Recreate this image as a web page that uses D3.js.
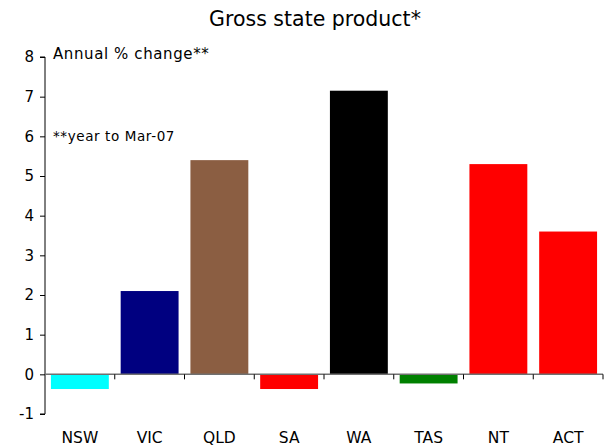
<!DOCTYPE html>
<html><head><meta charset="utf-8">
<script src="https://cdn.jsdelivr.net/npm/d3@7"></script>
<style>body{margin:0;background:#fff}svg{display:block}text{font-family:"DejaVu Sans",Verdana,sans-serif;fill:#000}</style>
</head><body>
<script>
const categories = ["NSW","VIC","QLD","SA","WA","TAS","NT","ACT"];
const values = [-0.37, 2.1, 5.4, -0.37, 7.15, -0.23, 5.3, 3.6];
const colors = ["#00FFFF","#000080","#8B5E42","#FF0000","#000000","#008000","#FF0000","#FF0000"];
const yTicks = [-1,0,1,2,3,4,5,6,7,8];
const title = "Gross state product*";
const note1 = "Annual % change**";
const note2 = "**year to Mar-07";

const W = 612, H = 448;
const svg = d3.select("body").append("svg").attr("width", W).attr("height", H);
const x = d3.scaleBand().domain(categories).range([45, 603]).paddingInner(0.17).paddingOuter(0.085);
const y = d3.scaleLinear().domain([-1, 8]).range([414, 57]);

svg.append("text").attr("x", 315).attr("y", 26).attr("text-anchor", "middle")
  .style("font-size", "20.5px").text(title);

svg.selectAll("rect.bar").data(values).enter().append("rect")
  .attr("x", (d, i) => x(categories[i]))
  .attr("width", x.bandwidth())
  .attr("y", d => y(Math.max(0, d)))
  .attr("height", d => Math.abs(y(d) - y(0)))
  .attr("fill", (d, i) => colors[i]);

// y axis
const ya = svg.append("g").attr("transform", "translate(45,0)")
  .call(d3.axisLeft(y).tickValues(yTicks).tickSize(5).tickPadding(6).tickFormat(d => String(d)));
ya.select(".domain").attr("d", `M-5,${y(8)}H0V${y(-1)}H-5`).attr("stroke", "#000");
ya.selectAll("text").style("font-size", "15px").style("font-family", '"DejaVu Sans",Verdana,sans-serif');

// zero line with category ticks
const bounds = categories.map(c => x(c) - x.step()*x.paddingInner()/2).concat([603]);
svg.append("line").attr("x1", 45).attr("x2", 603).attr("y1", y(0)).attr("y2", y(0))
  .attr("stroke", "#707070").attr("stroke-width", 1.5);
svg.selectAll("line.ct").data(bounds.slice(1)).enter().append("line")
  .attr("x1", d => d).attr("x2", d => d).attr("y1", y(0)).attr("y2", y(0) + 5)
  .attr("stroke", "#000");

// category labels
svg.selectAll("text.cat").data(categories).enter().append("text")
  .attr("x", d => x(d) + x.bandwidth()/2).attr("y", 443).attr("text-anchor", "middle")
  .style("font-size", "15.5px").text(d => d);

svg.append("text").attr("x", 53).attr("y", 59).style("font-size", "15px")
  .style("letter-spacing", "0.6px").text(note1);
svg.append("text").attr("x", 53).attr("y", 141).style("font-size", "13.5px")
  .style("letter-spacing", "0.6px").text(note2);
</script>
</body></html>
